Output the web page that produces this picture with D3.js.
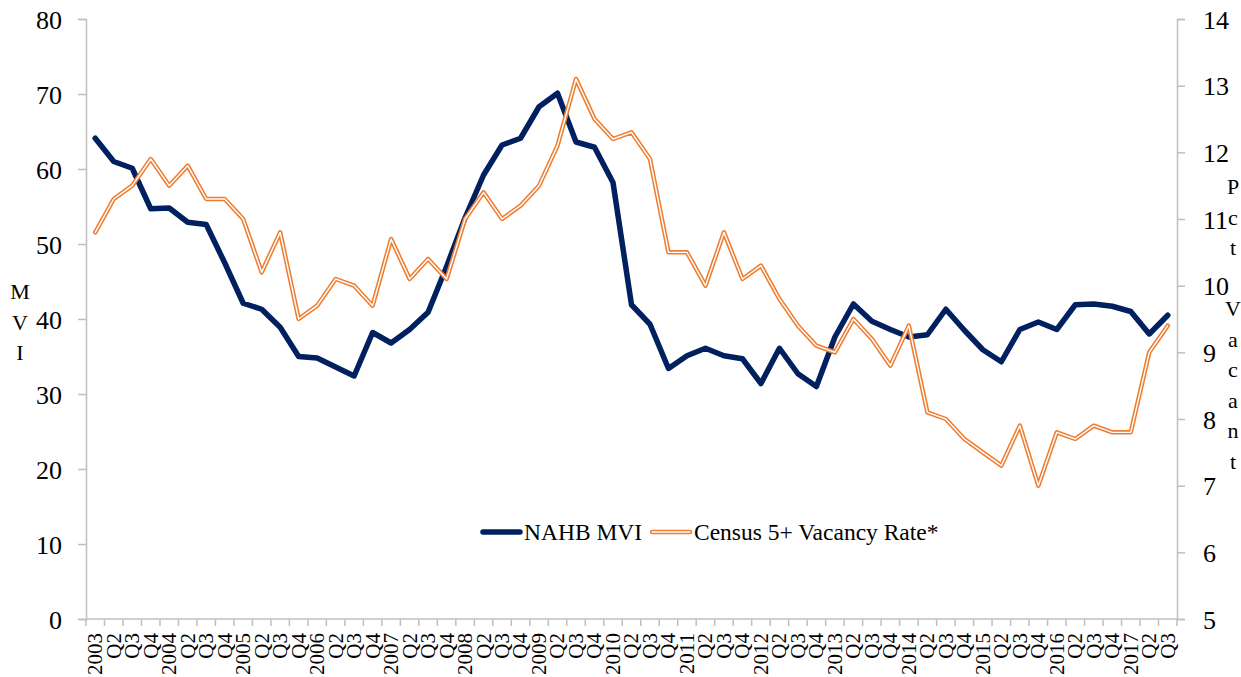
<!DOCTYPE html>
<html lang="en">
<head>
<meta charset="UTF-8">
<title>NAHB MVI vs Census 5+ Vacancy Rate</title>
<script src="https://d3js.org/d3.v7.min.js"></script>
<style>
  body { margin: 0; background: #fff; }
  svg text { font-family: "Liberation Serif", "Times New Roman", serif !important; fill: #000; }
</style>
</head>
<body>
<div id="chart"></div>
<script>
// quarter labels, 2003 Q1 .. 2017 Q3
const quarterLabels = [
  "2003","Q2","Q3","Q4","2004","Q2","Q3","Q4","2005","Q2","Q3","Q4",
  "2006","Q2","Q3","Q4","2007","Q2","Q3","Q4","2008","Q2","Q3","Q4",
  "2009","Q2","Q3","Q4","2010","Q2","Q3","Q4","2011","Q2","Q3","Q4",
  "2012","Q2","Q3","Q4","2013","Q2","Q3","Q4","2014","Q2","Q3","Q4",
  "2015","Q2","Q3","Q4","2016","Q2","Q3","Q4","2017","Q2","Q3"
];
// NAHB Multifamily Vacancy Index (left axis)
const mvi = [
  64.1, 61.0, 60.1, 54.7, 54.8, 52.9, 52.6, 47.5, 42.1, 41.3, 38.9, 35.0,
  34.8, 33.6, 32.4, 38.2, 36.8, 38.6, 40.9, 47.0, 53.5, 59.2, 63.2, 64.1,
  68.3, 70.1, 63.6, 62.9, 58.2, 41.9, 39.3, 33.4, 35.1, 36.1, 35.1, 34.7,
  31.4, 36.1, 32.7, 31.0, 37.6, 42.0, 39.7, 38.6, 37.6, 37.9, 41.3, 38.5,
  35.9, 34.3, 38.6, 39.6, 38.6, 41.9, 42.0, 41.7, 41.0, 38.0, 40.5
];
// Census 5+ units rental vacancy rate, percent (right axis)
const vacancy = [
  10.8, 11.3, 11.5, 11.9, 11.5, 11.8, 11.3, 11.3, 11.0, 10.2, 10.8, 9.5,
  9.7, 10.1, 10.0, 9.7, 10.7, 10.1, 10.4, 10.1, 11.0, 11.4, 11.0, 11.2,
  11.5, 12.1, 13.1, 12.5, 12.2, 12.3, 11.9, 10.5, 10.5, 10.0, 10.8, 10.1,
  10.3, 9.8, 9.4, 9.1, 9.0, 9.5, 9.2, 8.8, 9.4, 8.1, 8.0, 7.7,
  7.5, 7.3, 7.9, 7.0, 7.8, 7.7, 7.9, 7.8, 7.8, 9.0, 9.4
];
const leftTicks = [0, 10, 20, 30, 40, 50, 60, 70, 80];
const rightTicks = [5, 6, 7, 8, 9, 10, 11, 12, 13, 14];
const seriesNames = ["NAHB MVI", "Census 5+ Vacancy Rate*"];
const leftTitle = "MVI";
const rightTitle = "Pct Vacant";

const W = 1241, H = 677;
const plot = { left: 86, right: 1177, top: 19, bottom: 619 };
const navy = "#002060", orange = "#ED7D31", axisGrey = "#bfbfbf";
const serif = '"Liberation Serif", "Times New Roman", serif';

const svg = d3.select("#chart").append("svg")
  .attr("width", W).attr("height", H)
  .style("font-family", serif);

const x = d3.scaleBand()
  .domain(d3.range(quarterLabels.length))
  .range([plot.left, plot.right])
  .paddingInner(0).paddingOuter(0);

const yL = d3.scaleLinear().domain([0, 80]).range([plot.bottom, plot.top]);
const yR = d3.scaleLinear().domain([5, 14]).range([plot.bottom, plot.top]);

// left axis
const gL = svg.append("g")
  .attr("transform", `translate(${plot.left},0)`)
  .call(d3.axisLeft(yL).tickValues(leftTicks).tickSize(8).tickPadding(16));

// right axis
const gR = svg.append("g")
  .attr("transform", `translate(${plot.right},0)`)
  .call(d3.axisRight(yR).tickValues(rightTicks).tickSize(8).tickPadding(18));

[gL, gR].forEach(g => {
  g.attr("font-family", serif).attr("font-size", 26);
  g.select(".domain").attr("stroke", axisGrey).attr("stroke-width", 1.5);
  g.selectAll(".tick line").attr("stroke", axisGrey).attr("stroke-width", 1.5);
  g.selectAll("text").attr("dy", "0.35em").style("font-family", serif).style("font-size", "26px");
});

// x axis: ticks at band edges, labels centred in bands
const gX = svg.append("g").attr("transform", `translate(0,${plot.bottom})`);
gX.append("line")
  .attr("x1", plot.left).attr("x2", plot.right)
  .attr("stroke", axisGrey).attr("stroke-width", 1.5);
gX.selectAll("line.tick")
  .data(d3.range(quarterLabels.length + 1))
  .join("line")
  .attr("class", "tick")
  .attr("x1", i => plot.left + i * x.step())
  .attr("x2", i => plot.left + i * x.step())
  .attr("y1", 0).attr("y2", 7)
  .attr("stroke", axisGrey).attr("stroke-width", 1.5);
gX.selectAll("text")
  .data(quarterLabels)
  .join("text")
  .attr("transform", (d, i) => `translate(${x(i) + x.bandwidth() / 2},14) rotate(-90)`)
  .attr("text-anchor", "end")
  .attr("dy", "0.33em")
  .style("font-family", serif)
  .style("font-size", "21px")
  .text(d => d);

// axis titles, one letter per line
svg.append("g").selectAll("text")
  .data(leftTitle.split(""))
  .join("text")
  .attr("x", 20)
  .attr("y", (d, i) => 299 + i * 30.5)
  .attr("text-anchor", "middle")
  .style("font-family", serif)
  .style("font-size", "22px")
  .text(d => d);

svg.append("g").selectAll("text")
  .data(rightTitle.split(""))
  .join("text")
  .attr("x", 1233)
  .attr("y", (d, i) => 194 + i * 30.5)
  .attr("text-anchor", "middle")
  .style("font-family", serif)
  .style("font-size", "22px")
  .text(d => d);

// lines
const cx = i => x(i) + x.bandwidth() / 2;
const lineL = d3.line().x((d, i) => cx(i)).y(d => yL(d));
const lineR = d3.line().x((d, i) => cx(i)).y(d => yR(d));

svg.append("path")
  .datum(mvi)
  .attr("d", lineL)
  .attr("fill", "none")
  .attr("stroke", navy)
  .attr("stroke-width", 5.5)
  .attr("stroke-linejoin", "round")
  .attr("stroke-linecap", "round");

// compound (double) orange line
svg.append("path")
  .datum(vacancy)
  .attr("d", lineR)
  .attr("fill", "none")
  .attr("stroke", orange)
  .attr("stroke-width", 4.5)
  .attr("stroke-linejoin", "round")
  .attr("stroke-linecap", "round");
svg.append("path")
  .datum(vacancy)
  .attr("d", lineR)
  .attr("fill", "none")
  .attr("stroke", "#fff")
  .attr("stroke-width", 1.4)
  .attr("stroke-linejoin", "round")
  .attr("stroke-linecap", "round");

// legend
const legend = svg.append("g");
legend.append("line")
  .attr("x1", 483).attr("x2", 520).attr("y1", 532).attr("y2", 532)
  .attr("stroke", navy).attr("stroke-width", 5.5).attr("stroke-linecap", "round");
legend.append("text")
  .attr("x", 524).attr("y", 540)
  .style("font-family", serif)
  .style("font-size", "23.5px")
  .text(seriesNames[0]);
legend.append("line")
  .attr("x1", 652).attr("x2", 690).attr("y1", 532).attr("y2", 532)
  .attr("stroke", orange).attr("stroke-width", 4.5).attr("stroke-linecap", "round");
legend.append("line")
  .attr("x1", 652).attr("x2", 690).attr("y1", 532).attr("y2", 532)
  .attr("stroke", "#fff").attr("stroke-width", 1.4).attr("stroke-linecap", "round");
legend.append("text")
  .attr("x", 694).attr("y", 540)
  .style("font-family", serif)
  .style("font-size", "23.5px")
  .text(seriesNames[1]);
</script>
</body>
</html>
